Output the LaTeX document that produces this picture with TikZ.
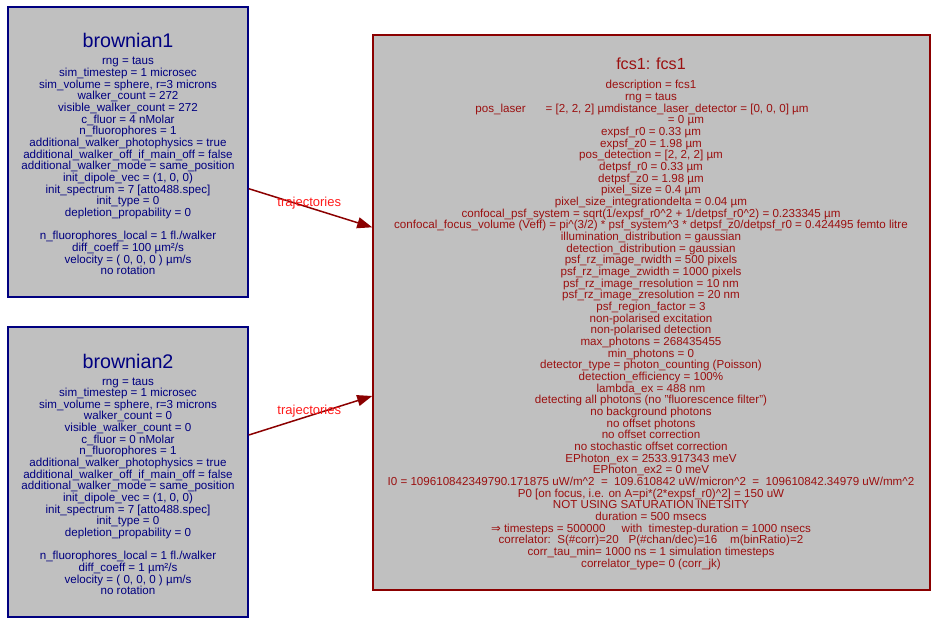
\documentclass[tikz,border=0pt]{standalone}
\usepackage{fontspec}
\setmainfont{Liberation Sans}
\newfontfamily\djv{DejaVu Sans}
\usetikzlibrary{arrows.meta}
\definecolor{boxgray}{HTML}{C0C0C0}
\definecolor{bnavy}{HTML}{000080}
\definecolor{fred}{HTML}{8B0000}
\definecolor{ftext}{HTML}{9B1010}
\definecolor{lblred}{HTML}{FF1A1A}
\newcommand\bodyfont{\fontsize{11.6bp}{11.66bp}\selectfont}
\newcommand\crt{\textasciicircum}
\newcommand\textlines[1]{\vtop{\baselineskip=11.66bp\lineskiplimit=-20bp\let\\=\cr
  \halign{\hfil##\hfil\cr#1\crcr}}}
\begin{document}
\begin{tikzpicture}[x=1bp,y=-1bp,
  boxB/.style={draw=bnavy,fill=boxgray,line width=1.6bp,inner sep=0pt,
    minimum width=240bp,minimum height=290bp},
  boxF/.style={draw=fred,fill=boxgray,line width=1.6bp,inner sep=0pt,
    minimum width=557bp,minimum height=555bp},
  titleB/.style={text=bnavy,inner sep=0pt,anchor=base,font=\fontsize{19.7bp}{22bp}\selectfont},
  titleF/.style={text=ftext,inner sep=0pt,anchor=base,font=\fontsize{16.1bp}{19bp}\selectfont},
  bodyB/.style={text=bnavy,inner sep=0pt,anchor=base,font=\bodyfont},
  bodyF/.style={text=ftext,inner sep=0pt,anchor=base,font=\bodyfont},
  conn/.style={draw=fred,line width=1.5bp,-{Triangle[length=15bp,width=11bp]}},
  lbl/.style={text=lblred,inner sep=0pt,font=\fontsize{13bp}{15bp}\selectfont}
]
\useasboundingbox (0,0) rectangle (936,623);

% boxes
\node[boxB] (b1) at (128,152) {};
\node[boxB] (b2) at (128,472) {};
\node[boxF] (fcs) at (651.5,312.5) {};

% brownian1
\node[titleB] (t1) at (128,48) {brownian1};
\node[bodyB] (l1) at (128,65) {\textlines{%
rng = taus\\
sim\_timestep = 1 microsec\\
sim\_volume = sphere, r=3 microns\\
walker\_count = 272\\
visible\_walker\_count = 272\\
c\_fluor = 4 nMolar\\
n\_fluorophores = 1\\
additional\_walker\_photophysics = true\\
additional\_walker\_off\_if\_main\_off = false\\
additional\_walker\_mode = same\_position\\
init\_dipole\_vec = (1, 0, 0)\\
init\_spectrum = 7 [atto488.spec]\\
init\_type = 0\\
depletion\_propability = 0\\
\\
n\_fluorophores\_local = 1 fl./walker\\
diff\_coeff = 100 µm²/s\\
velocity = ( 0, 0, 0 ) µm/s\\
no rotation}};

% brownian2
\node[titleB] (t2) at (128,368) {brownian2};
\node[bodyB] (l2) at (128,385) {\textlines{%
rng = taus\\
sim\_timestep = 1 microsec\\
sim\_volume = sphere, r=3 microns\\
walker\_count = 0\\
visible\_walker\_count = 0\\
c\_fluor = 0 nMolar\\
n\_fluorophores = 1\\
additional\_walker\_photophysics = true\\
additional\_walker\_off\_if\_main\_off = false\\
additional\_walker\_mode = same\_position\\
init\_dipole\_vec = (1, 0, 0)\\
init\_spectrum = 7 [atto488.spec]\\
init\_type = 0\\
depletion\_propability = 0\\
\\
n\_fluorophores\_local = 1 fl./walker\\
diff\_coeff = 1 µm²/s\\
velocity = ( 0, 0, 0 ) µm/s\\
no rotation}};

% fcs1
\node[titleF] (tf) at (651,69.5) {fcs1: fcs1};
\node[bodyF] (lf) at (651,89) {\textlines{%
description = fcs1\\
rng = taus\\
\hspace*{-18bp}pos\_laser\hspace{20bp}= [2, 2, 2] µmdistance\_laser\_detector = [0, 0, 0] µm\\
\hspace*{70bp}= 0 µm\\
expsf\_r0 = 0.33 µm\\
expsf\_z0 = 1.98 µm\\
pos\_detection = [2, 2, 2] µm\\
detpsf\_r0 = 0.33 µm\\
detpsf\_z0 = 1.98 µm\\
pixel\_size = 0.4 µm\\
pixel\_size\_integrationdelta = 0.04 µm\\
confocal\_psf\_system = sqrt(1/expsf\_r0\crt2 + 1/detpsf\_r0\crt2) = 0.233345 µm\\
confocal\_focus\_volume (Veff) = pi\crt(3/2) * psf\_system\crt3 * detpsf\_z0/detpsf\_r0 = 0.424495 femto litre\\
illumination\_distribution = gaussian\\
detection\_distribution = gaussian\\
psf\_rz\_image\_rwidth = 500 pixels\\
psf\_rz\_image\_zwidth = 1000 pixels\\
psf\_rz\_image\_rresolution = 10 nm\\
psf\_rz\_image\_zresolution = 20 nm\\
psf\_region\_factor = 3\\
non-polarised excitation\\
non-polarised detection\\
max\_photons = 268435455\\
min\_photons = 0\\
detector\_type = photon\_counting (Poisson)\\
detection\_efficiency = 100\%\\
lambda\_ex = 488 nm\\
detecting all photons (no "fluorescence filter")\\
no background photons\\
no offset photons\\
no offset correction\\
no stochastic offset correction\\
EPhoton\_ex = 2533.917343 meV\\
EPhoton\_ex2 = 0 meV\\
I0 = 109610842349790.171875 uW/m\crt2\ \ =\ \ 109.610842 uW/micron\crt2\ \ =\ \ 109610842.34979 uW/mm\crt2\\
P0 [on focus, i.e. on A=pi*(2*expsf\_r0)\crt2] = 150 uW\\
NOT USING SATURATION INETSITY\\
duration = 500 msecs\\
{\djv ⇒} timesteps = 500000\ \ \ \ \ with\ \ timestep-duration = 1000 nsecs\\
correlator:\ \ S(\#corr)=20\ \ \ P(\#chan/dec)=16\ \ \ \ m(binRatio)=2\\
corr\_tau\_min= 1000 ns = 1 simulation timesteps\\
correlator\_type= 0 (corr\_jk)}};

% connectors
\draw[conn] ([yshift=-36.7bp]b1.east) -- node[lbl,pos=0.49,yshift=4.5bp] (e1) {trajectories} ([yshift=85.2bp]fcs.west);
\draw[conn] ([yshift=37bp]b2.east) -- node[lbl,pos=0.49,yshift=5bp] (e2) {trajectories} ([yshift=-83.5bp]fcs.west);
\end{tikzpicture}
\end{document}
